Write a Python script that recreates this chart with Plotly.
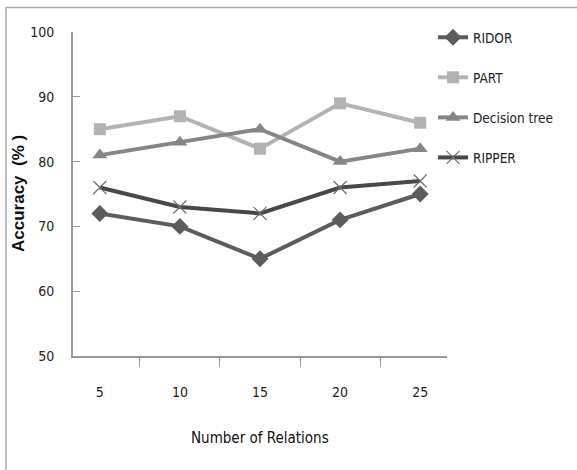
import plotly.graph_objects as go

relations = ["5", "10", "15", "20", "25"]
ridor = [72, 70, 65, 71, 75]
part = [85, 87, 82, 89, 86]
decision_tree = [81, 83, 85, 80, 82]
ripper = [76, 73, 72, 76, 77]
y_ticks = [50, 60, 70, 80, 90, 100]

FONT = "Liberation Sans Narrow, DejaVu Sans Condensed, Roboto Condensed, Roboto, sans-serif"

series = [
    ("RIDOR", ridor, "#5c5c5c", dict(symbol="diamond", size=13, color="#5c5c5c")),
    ("PART", part, "#b3b3b3", dict(symbol="square", size=12, color="#b3b3b3")),
    ("Decision tree", decision_tree, "#868686", dict(symbol="triangle-up", size=13, color="#868686")),
    ("RIPPER", ripper, "#484848", dict(symbol="x-thin-open", size=13, color="#707070",
                                      line=dict(width=1.2, color="#707070"))),
]

fig = go.Figure()
for name, vals, col, mk in series:
    fig.add_trace(go.Scatter(
        x=relations, y=vals, name=name, mode="lines+markers",
        line=dict(color=col, width=4), marker=mk, legendgroup=name,
    ))

PW, PH = 374, 324
bx0 = -67 / PW
by1 = 1 + 24.5 / PH

fig.update_layout(
    width=577, height=470,
    margin=dict(l=73, r=130, t=32, b=114, autoexpand=False),
    paper_bgcolor="white", plot_bgcolor="white",
    font=dict(family=FONT, size=14, color="#222"),
    showlegend=True,
    legend=dict(x=1 - 14 / PW, xanchor="left", y=1 + 10 / PH, yanchor="top",
                font=dict(family=FONT, size=13.5, color="#222"),
                tracegroupgap=19.5, itemwidth=30, traceorder="grouped",
                bgcolor="rgba(0,0,0,0)"),
    xaxis=dict(type="category", tickson="boundaries", ticks="outside", ticklen=9,
               tickcolor="#999", showline=True, linecolor="#999", linewidth=2,
               showgrid=False, zeroline=False, ticklabelstandoff=22,
               tickfont=dict(family=FONT, size=14, color="#222")),
    yaxis=dict(range=[50, 100], tickvals=y_ticks, ticks="inside", ticklen=7,
               tickcolor="#999", showline=True, linecolor="#999", linewidth=2,
               showgrid=False, zeroline=False, ticklabelstandoff=14,
               tickfont=dict(family=FONT, size=14, color="#222")),
    shapes=[
        dict(type="line", xref="paper", yref="paper", x0=bx0, x1=1.6, y0=by1, y1=by1,
             line=dict(color="#aaa", width=1.5)),
        dict(type="line", xref="paper", yref="paper", x0=bx0, x1=bx0, y0=-1.0, y1=by1,
             line=dict(color="#aaa", width=1.5)),
    ],
    annotations=[
        dict(text="Number of Relations", xref="paper", yref="paper", x=0.5, y=-82 / PH,
             xanchor="center", yanchor="middle", showarrow=False,
             font=dict(family=FONT, size=15, color="#111")),
        dict(text="<b>Accuracy  (% )</b>", xref="paper", yref="paper", x=-55 / PW, y=0.5,
             xanchor="center", yanchor="middle", textangle=-90, showarrow=False,
             font=dict(family="Liberation Sans, Arial, sans-serif", size=17, color="#111")),
    ],
)

fig.write_html("out.html", config={"displayModeBar": False},
               post_script="document.body.style.margin='0';document.body.style.padding='0';")
